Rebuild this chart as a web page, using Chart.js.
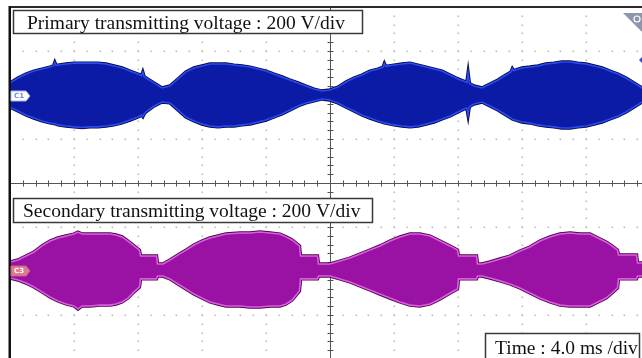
<!DOCTYPE html>
<html>
<head>
<meta charset="utf-8">
<script src="https://cdn.jsdelivr.net/npm/chart.js@4.4.1/dist/chart.umd.min.js"></script>
<style>
html,body{margin:0;padding:0;background:#fff;overflow:hidden}
#wrap{position:relative;width:642px;height:358px}
</style>
</head>
<body>
<div id="wrap"><canvas id="scope"></canvas></div>
<script>
// ---- scope settings (4.0 ms/div, 200 V/div) ----
const msPerDiv = 4;
const voltsPerDiv = 200;
const primaryOffset = 400;    // channel 1 ground marker (+2 div)
const secondaryOffset = -400; // channel 3 ground marker (-2 div)

const primaryLabel = 'Primary transmitting voltage : 200 V/div';
const secondaryLabel = 'Secondary transmitting voltage : 200 V/div';
const timeLabel = 'Time : 4.0 ms /div';

// ---- primary (blue) envelope ----
const primaryTime = [0,0.5,1,1.5,2,2.5,2.72,2.8,2.88,3,3.5,4,4.5,5,5.5,6,6.5,7,7.5,8,8.22,8.3,8.38,8.5,9,9.5,10,10.5,11,11.5,12,12.5,13,13.5,14,14.5,15,15.5,16,16.5,17,17.5,18,18.5,19,19.5,20,20.5,21,21.5,22,22.5,23,23.32,23.4,23.48,24,24.5,25,25.5,26,26.5,27,27.5,28,28.5,28.55,28.63,28.71,29,29.5,30,30.5,31,31.32,31.4,31.48,32,32.5,33,33.5,34,34.5,35,35.5,36,36.5,37,37.5,38,38.5,39,39.5];
const primaryUpper = [55,77,95,109,118,127,132,148,134,136,141,145,145,145,145,141,132,123,109,95,88,104,84,77,55,32,41,73,105,123,132,141,141,141,136,132,127,118,109,95,82,68,55,41,27,18,23,36,59,77,91,109,118,127,143,130,136,141,145,136,127,118,109,91,73,59,57,100,52,41,32,50,68,91,105,120,111,123,127,132,141,145,150,150,145,141,132,123,109,95,77,55,32];
const primaryLower = [55,73,91,105,118,127,130,130,132,136,141,145,148,145,145,141,136,127,114,100,91,98,86,77,50,32,36,68,100,118,132,141,145,141,141,136,132,123,114,100,86,68,50,36,27,18,23,36,55,73,91,105,118,125,127,128,136,141,145,141,132,123,109,95,77,59,57,91,52,41,32,50,68,91,105,109,111,123,127,136,141,145,150,150,145,141,132,123,109,95,77,55,32];

// ---- secondary (magenta) envelope ----
const secondaryTime = [0,0.5,1,1.5,2,2.5,3,3.5,4,4.25,4.5,5,5.625,6.25,6.625,7,7.375,7.75,8.09,8.16,9.16,9.22,9.56,10,10.5,11,11.5,12,12.5,13,13.5,14.375,15,15.625,16.25,16.875,17.25,17.625,18.09,18.16,19.22,19.28,20,20.625,21.25,21.875,22.5,23.125,23.75,24.375,25,25.625,26.25,26.875,27.5,27.97,28.03,29.16,29.22,29.5,30,30.625,31.25,31.875,32.5,33.125,33.75,34.375,35,35.625,36.25,36.75,37.25,37.625,37.97,38.03,39.16,39.22,39.5];
const secondaryUpper = [41,50,68,86,114,136,150,159,168,177,168,168,168,168,164,155,136,114,95,68,68,32,32,50,73,95,118,136,150,159,168,173,173,177,173,168,155,141,114,68,68,32,32,45,59,77,95,114,136,155,168,168,159,136,114,95,68,68,32,32,41,55,68,91,109,136,155,168,173,168,168,150,132,114,95,73,73,36,36];
const secondaryLower = [32,41,55,73,95,118,136,150,159,173,159,159,155,155,150,141,123,95,73,36,36,23,23,36,59,82,105,123,141,150,159,159,164,164,159,159,150,132,91,36,36,23,23,36,50,68,86,105,123,141,155,159,150,127,100,82,36,36,23,23,32,45,59,77,100,123,141,155,159,159,159,141,123,100,77,36,36,23,23];

function envelopeDatasets(time, upper, lower, offset, fillColor, rimColor, edgeColor) {
  const up = time.map((t, i) => ({x: t, y: offset + upper[i]}));
  const lo = time.map((t, i) => ({x: t, y: offset - lower[i]}));
  return [
    {data: up, borderColor: edgeColor, borderWidth: 3.4, fill: false, order: 10},
    {data: lo, borderColor: edgeColor, borderWidth: 3.4, fill: false, order: 10},
    {data: up, borderColor: rimColor, borderWidth: 1.6, fill: false, order: 1},
    {data: lo, borderColor: rimColor, borderWidth: 1.6, fill: '-1', backgroundColor: fillColor, order: 1}
  ];
}

const datasets = [
  ...envelopeDatasets(primaryTime, primaryUpper, primaryLower, primaryOffset, '#0b1ba6', '#2b4af0', '#050a4e'),
  ...envelopeDatasets(secondaryTime, secondaryUpper, secondaryLower, secondaryOffset, '#9912a3', '#de5ce3', '#4a0848')
];

function drawBox(ctx, text, bx, by, bw, bh, tx, ty) {
  ctx.fillStyle = '#ffffff';
  ctx.fillRect(bx, by, bw, bh);
  ctx.strokeStyle = '#3a3a3a';
  ctx.lineWidth = 1.5;
  ctx.strokeRect(bx, by, bw, bh);
  ctx.fillStyle = '#111111';
  ctx.font = '19.5px "Liberation Serif", "Times New Roman", serif';
  ctx.textBaseline = 'alphabetic';
  ctx.textAlign = 'left';
  ctx.fillText(text, tx, ty);
}

function drawTag(ctx, text, x0, yc, fill, stroke, textColor) {
  ctx.beginPath();
  ctx.moveTo(x0, yc - 5); ctx.lineTo(x0 + 15, yc - 5); ctx.lineTo(x0 + 19, yc);
  ctx.lineTo(x0 + 15, yc + 5); ctx.lineTo(x0, yc + 5); ctx.closePath();
  ctx.fillStyle = fill; ctx.fill();
  ctx.strokeStyle = stroke; ctx.lineWidth = 1; ctx.stroke();
  ctx.fillStyle = textColor;
  ctx.font = 'bold 7px "DejaVu Sans", sans-serif';
  ctx.textBaseline = 'middle';
  ctx.fillText(text, x0 + 3, yc + 0.5);
}

// graticule: dotted division lines + centre cross with minor ticks, placed by the chart's scales
const graticule = {
  id: 'graticule',
  beforeDatasetsDraw(chart) {
    const {ctx, chartArea: a, scales: {x, y}} = chart;
    const minorX = msPerDiv / 5, minorY = voltsPerDiv / 5;
    ctx.save();
    ctx.fillStyle = '#bdbdbd';
    // vertical dotted division lines
    for (let d = 1; d * msPerDiv <= 39.5; d++) {
      if (d === 5) continue;
      const px = Math.round(x.getPixelForValue(d * msPerDiv));
      for (let k = -20; k <= 20; k++) {
        const py = Math.round(y.getPixelForValue(k * minorY));
        if (py < a.top || py > a.bottom) continue;
        ctx.fillRect(px - 0.5, py - 0.5, 1.6, 1.6);
      }
    }
    // horizontal dotted division lines
    for (let d = -3; d <= 3; d++) {
      if (d === 0) continue;
      const py = Math.round(y.getPixelForValue(d * voltsPerDiv));
      for (let k = 0; k * minorX <= 39.5; k++) {
        const px = Math.round(x.getPixelForValue(k * minorX));
        ctx.fillRect(px - 0.5, py - 0.5, 1.6, 1.6);
      }
    }
    // centre cross
    const cx = Math.round(x.getPixelForValue(5 * msPerDiv)) + 0.5;
    const cy = Math.round(y.getPixelForValue(0)) + 0.5;
    ctx.strokeStyle = '#555555';
    ctx.lineWidth = 1;
    ctx.beginPath();
    ctx.moveTo(a.left, cy); ctx.lineTo(a.right, cy);
    ctx.moveTo(cx, a.top); ctx.lineTo(cx, a.bottom);
    for (let k = 0; k * minorX <= 39.5; k++) {
      const px = Math.round(x.getPixelForValue(k * minorX)) + 0.5;
      ctx.moveTo(px, cy - 3); ctx.lineTo(px, cy + 3);
    }
    for (let k = -20; k <= 20; k++) {
      const py = Math.round(y.getPixelForValue(k * minorY)) + 0.5;
      ctx.moveTo(cx - 3, py); ctx.lineTo(cx + 3, py);
    }
    ctx.stroke();
    ctx.restore();
  },
  afterDraw(chart) {
    const {ctx, chartArea: a, scales: {y}} = chart;
    ctx.save();
    // frame
    ctx.fillStyle = '#2a2a2a';
    ctx.fillRect(a.left - 1, a.top - 1, a.right - a.left + 1, 2);
    ctx.fillStyle = '#111111';
    ctx.fillRect(a.left - 1.5, a.top - 1, 2.5, a.bottom - a.top + 1);
    // channel tags
    drawTag(ctx, 'C1', a.left + 1, Math.round(y.getPixelForValue(primaryOffset)) + 1, '#ffffff', '#9fb4e8', '#6f8fd8');
    drawTag(ctx, 'C3', a.left + 1, Math.round(y.getPixelForValue(secondaryOffset)), '#e07a92', '#d06080', '#ffffff');
    // trigger icon
    ctx.beginPath();
    ctx.moveTo(623, 13); ctx.lineTo(642, 13); ctx.lineTo(642, 32); ctx.closePath();
    ctx.fillStyle = '#8d97ab'; ctx.fill();
    ctx.strokeStyle = '#ffffff'; ctx.lineWidth = 1.2;
    ctx.beginPath(); ctx.arc(637, 19, 3, 0, Math.PI * 2); ctx.stroke();
    ctx.beginPath(); ctx.moveTo(639, 60); ctx.lineTo(642, 57); ctx.lineTo(642, 63); ctx.closePath();
    ctx.fillStyle = '#2b4af0'; ctx.fill();
    // annotation boxes
    drawBox(ctx, primaryLabel, 13.5, 10.5, 349, 23, 27, 28.5);
    drawBox(ctx, secondaryLabel, 13.5, 198.5, 359, 24, 23, 216.5);
    drawBox(ctx, timeLabel, 485.5, 333.5, 154, 30, 495, 353.5);
    ctx.restore();
  }
};

new Chart(document.getElementById('scope'), {
  type: 'line',
  data: {datasets},
  options: {
    responsive: true,
    maintainAspectRatio: false,
    devicePixelRatio: 1,
    animation: false,
    events: [],
    layout: {padding: {left: 10, top: 7, right: 0, bottom: 0}},
    elements: {line: {tension: 0}, point: {radius: 0}},
    plugins: {legend: {display: false}, tooltip: {enabled: false}},
    scales: {
      x: {
        type: 'linear',
        min: 0,
        max: 39.5,
        afterFit(s) { s.height = 0; },
        ticks: {display: false, stepSize: msPerDiv},
        grid: {display: false, drawTicks: false},
        border: {display: false}
      },
      y: {
        type: 'linear',
        min: -795.5,
        max: 800,
        afterFit(s) { s.width = 0; },
        ticks: {display: false, stepSize: voltsPerDiv},
        grid: {display: false, drawTicks: false},
        border: {display: false}
      }
    }
  },
  plugins: [graticule]
});
</script>
</body>
</html>
